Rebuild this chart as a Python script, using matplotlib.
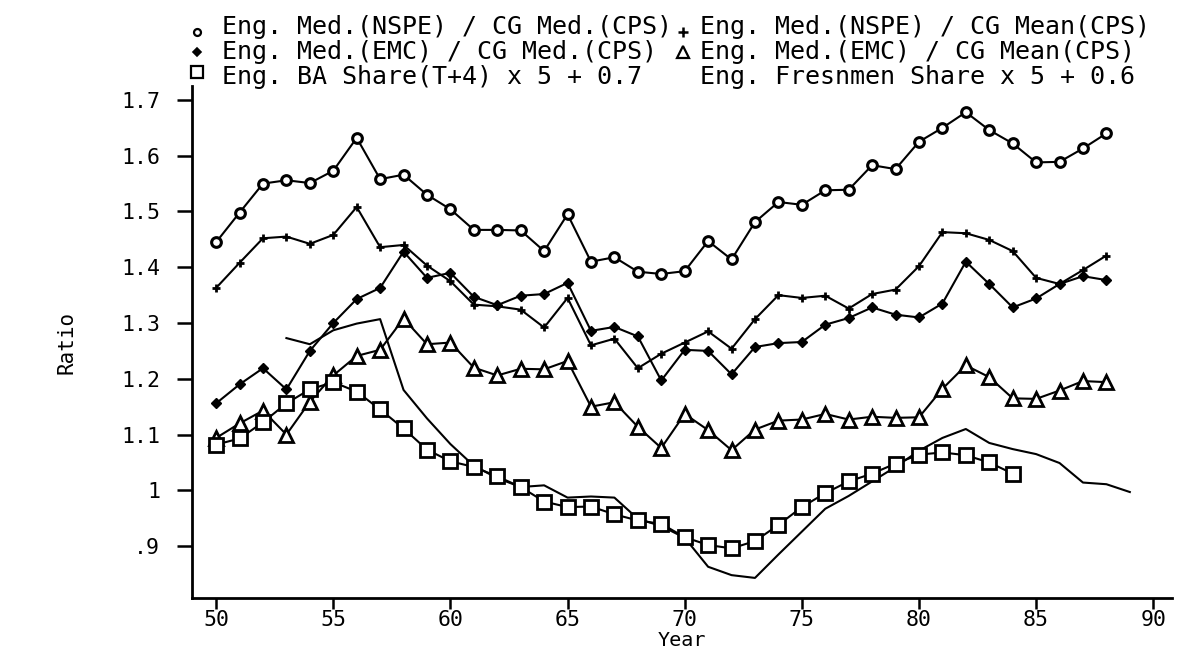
import matplotlib
matplotlib.use("Agg")
import matplotlib.pyplot as plt
from matplotlib.lines import Line2D

# ---------------- data ----------------
years_ratio = list(range(50, 89))          # 1950 .. 1988
nspe_med_cg_med = [1.445, 1.498, 1.550, 1.556, 1.551, 1.573, 1.632, 1.558, 1.566, 1.530,
                   1.504, 1.467, 1.467, 1.466, 1.429, 1.495, 1.410, 1.418, 1.392, 1.388,
                   1.393, 1.447, 1.414, 1.481, 1.517, 1.512, 1.538, 1.539, 1.583, 1.576,
                   1.625, 1.650, 1.678, 1.646, 1.622, 1.588, 1.589, 1.613, 1.640]
nspe_med_cg_mean = [1.363, 1.408, 1.452, 1.455, 1.442, 1.458, 1.508, 1.436, 1.440, 1.403,
                    1.375, 1.333, 1.330, 1.324, 1.292, 1.345, 1.260, 1.272, 1.219, 1.245,
                    1.265, 1.285, 1.254, 1.307, 1.350, 1.345, 1.349, 1.326, 1.352, 1.360,
                    1.402, 1.463, 1.461, 1.449, 1.429, 1.381, 1.370, 1.395, 1.421]
emc_med_cg_med = [1.156, 1.190, 1.219, 1.181, 1.250, 1.300, 1.343, 1.363, 1.428, 1.381,
                  1.390, 1.347, 1.332, 1.349, 1.352, 1.372, 1.286, 1.293, 1.276, 1.197,
                  1.252, 1.250, 1.208, 1.257, 1.264, 1.266, 1.297, 1.309, 1.328, 1.315,
                  1.310, 1.335, 1.410, 1.370, 1.328, 1.344, 1.370, 1.384, 1.377]
emc_med_cg_mean = [1.094, 1.120, 1.143, 1.100, 1.159, 1.206, 1.241, 1.252, 1.308, 1.262,
                   1.265, 1.220, 1.206, 1.218, 1.217, 1.232, 1.150, 1.158, 1.114, 1.076,
                   1.137, 1.108, 1.072, 1.109, 1.125, 1.127, 1.137, 1.127, 1.132, 1.130,
                   1.131, 1.182, 1.224, 1.203, 1.165, 1.164, 1.179, 1.196, 1.194]

years_ba = list(range(50, 85))
ba_share = [1.082, 1.093, 1.122, 1.156, 1.181, 1.194, 1.177, 1.145, 1.111, 1.073,
            1.052, 1.042, 1.025, 1.006, 0.980, 0.970, 0.971, 0.957, 0.946, 0.940,
            0.916, 0.902, 0.896, 0.909, 0.938, 0.970, 0.995, 1.016, 1.030, 1.048,
            1.064, 1.068, 1.063, 1.050, 1.030]

years_fresh = list(range(53, 90))
freshmen_share = [1.273, 1.262, 1.287, 1.299, 1.307, 1.180, 1.129, 1.083, 1.044, 1.022,
                  1.006, 1.009, 0.987, 0.989, 0.987, 0.949, 0.936, 0.915, 0.863, 0.848,
                  0.843, 0.885, 0.926, 0.967, 0.990, 1.016, 1.042, 1.071, 1.094, 1.110,
                  1.085, 1.074, 1.065, 1.049, 1.014, 1.011, 0.997]

x_ticks = [50, 55, 60, 65, 70, 75, 80, 85, 90]
y_ticks = [0.9, 1.0, 1.1, 1.2, 1.3, 1.4, 1.5, 1.6, 1.7]
y_tick_labels = [".9", "1", "1.1", "1.2", "1.3", "1.4", "1.5", "1.6", "1.7"]

legend_left = [
    "Eng. Med.(NSPE) / CG Med.(CPS)",
    "Eng. Med.(EMC) / CG Med.(CPS)",
    "Eng. BA Share(T+4) x 5 + 0.7",
]
legend_right = [
    "Eng. Med.(NSPE) / CG Mean(CPS)",
    "Eng. Med.(EMC) / CG Mean(CPS)",
    "Eng. Fresnmen Share x 5 + 0.6",
]

# ---------------- figure ----------------
W, H = 1188, 655
fig = plt.figure(figsize=(W / 100, H / 100), dpi=100)
fig.patch.set_facecolor("white")
ax = fig.add_axes([192 / W, 57 / H, 980 / W, 512 / H])

FONT = "DejaVu Sans Mono"
LW = 1.5
K = "black"

ax.plot(years_fresh, freshmen_share, color=K, lw=LW, zorder=2)
ax.plot(years_ratio, nspe_med_cg_mean, color=K, lw=LW, marker="+", ms=6, mew=2.0, zorder=3)
ax.plot(years_ratio, emc_med_cg_med, color=K, lw=LW, marker="D", ms=5, mfc=K, mec=K, zorder=3)
ax.plot(years_ratio, nspe_med_cg_med, color=K, lw=LW, marker="o", ms=7, mfc="white", mec=K,
        mew=2.2, zorder=4)
ax.plot(years_ratio, emc_med_cg_mean, color=K, lw=LW, marker="^", ms=10, mfc="white", mec=K,
        mew=2.0, zorder=4)
ax.plot(years_ba, ba_share, color=K, lw=LW, marker="s", ms=10, mfc="white", mec=K,
        mew=2.0, zorder=5)

ax.set_xlim(48.97, 90.8)
ax.set_ylim(0.807, 1.725)
ax.set_xticks(x_ticks)
ax.set_xticklabels([str(t) for t in x_ticks])
ax.set_yticks(y_ticks)
ax.set_yticklabels(y_tick_labels)

for s in ("top", "right"):
    ax.spines[s].set_visible(False)
for s in ("left", "bottom"):
    ax.spines[s].set_linewidth(2.0)
ax.tick_params(axis="both", direction="out", width=1.8, colors=K, labelsize=15.5)
ax.tick_params(axis="x", length=8, pad=1)
ax.tick_params(axis="y", length=11, pad=12)
for lab in ax.get_xticklabels() + ax.get_yticklabels():
    lab.set_fontfamily(FONT)

ax.set_xlabel("Year", fontsize=14.5, family=FONT, labelpad=0)
ax.set_ylabel("Ratio", fontsize=15, family=FONT, labelpad=32)

# ---------------- legend at the top (two three-line text blocks) ----------------
def fx(px):
    return px / W

def fy(py):
    return 1 - py / H

rows_y = [32, 52, 72]
LEG_FS = 18
fig.text(fx(222), fy(rows_y[1]), "\n".join(legend_left), family=FONT, fontsize=LEG_FS,
         ha="left", va="center", linespacing=1.05, color=K)
fig.text(fx(700), fy(rows_y[1]), "\n".join(legend_right), family=FONT, fontsize=LEG_FS,
         ha="left", va="center", linespacing=1.05, color=K)

marker_specs = [  # (x px, row, marker, size, face, edge width)
    (197, 0, "o", 5, "white", 1.6),
    (197, 1, "D", 4, K, 1.2),
    (197, 2, "s", 8, "white", 1.6),
    (683, 0, "+", 7, K, 1.8),
    (683, 1, "^", 8, "white", 1.6),
]
for mx, r, m, ms, mfc, mew in marker_specs:
    fig.add_artist(Line2D([fx(mx)], [fy(rows_y[r])], marker=m, ms=ms, mfc=mfc, mec=K,
                          mew=mew, ls="none", transform=fig.transFigure))

fig.savefig("out.png", dpi=100, facecolor="white")
